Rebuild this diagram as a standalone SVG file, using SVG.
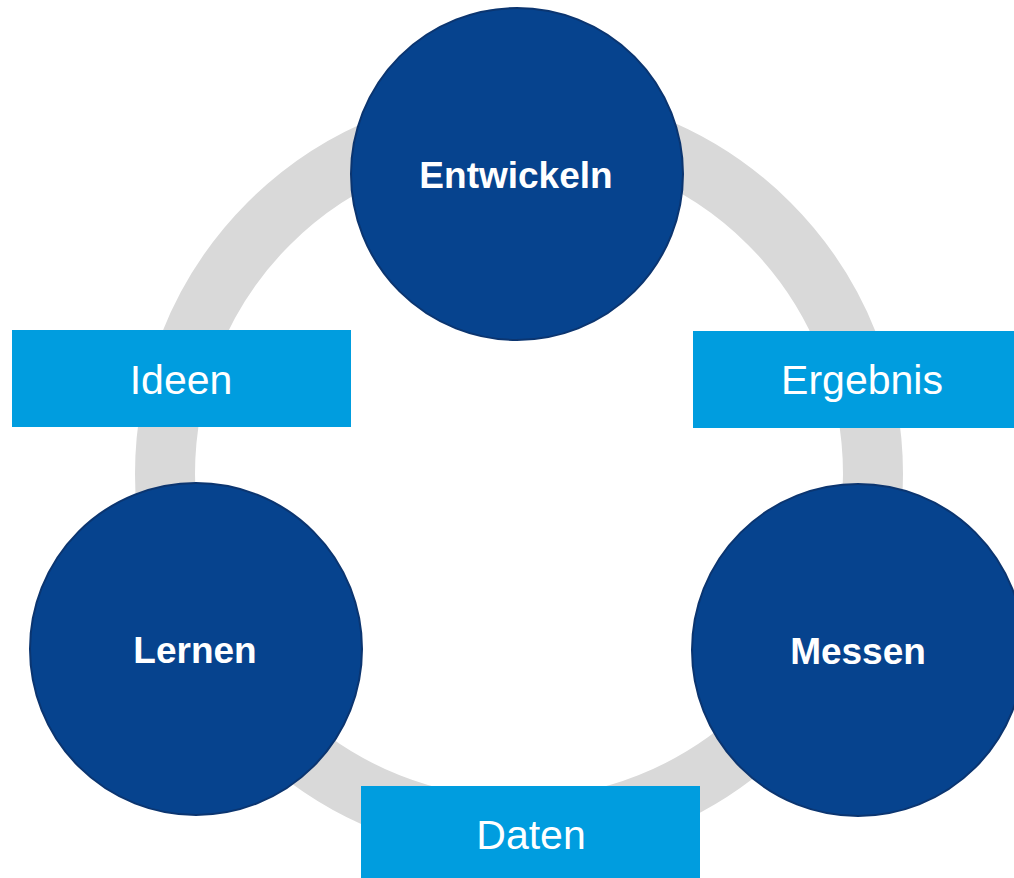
<svg xmlns="http://www.w3.org/2000/svg" width="1014" height="878" viewBox="0 0 1014 878">
<style>
.node{fill:#06438E;stroke:#0B3570;stroke-width:2}
.nlabel{font-family:"Liberation Sans",Arial,sans-serif;font-weight:bold;font-size:37px;fill:#fff;text-anchor:middle}
.box{fill:#009DDF}
.blabel{font-family:"Liberation Sans",Arial,sans-serif;font-size:41px;fill:#fff;text-anchor:middle}
</style>
<rect width="1014" height="878" fill="#fff"/>
<g id="connectors">
<circle cx="519" cy="474" r="354" fill="none" stroke="#D9D9D9" stroke-width="60"/>
</g>
<g id="ideen"><rect class="box" x="12" y="330" width="339" height="97"/><text class="blabel" x="181" y="394">Ideen</text></g>
<g id="ergebnis"><rect class="box" x="693" y="331" width="321" height="97"/><text class="blabel" x="862" y="394">Ergebnis</text></g>
<g id="daten"><rect class="box" x="361" y="786" width="339" height="92"/><text class="blabel" x="531" y="849">Daten</text></g>
<g id="entwickeln"><circle class="node" cx="517" cy="174" r="166"/><text class="nlabel" x="516" y="188">Entwickeln</text></g>
<g id="lernen"><circle class="node" cx="196" cy="649" r="166"/><text class="nlabel" x="195" y="663">Lernen</text></g>
<g id="messen"><circle class="node" cx="858" cy="650" r="166"/><text class="nlabel" x="858" y="664">Messen</text></g>
</svg>
